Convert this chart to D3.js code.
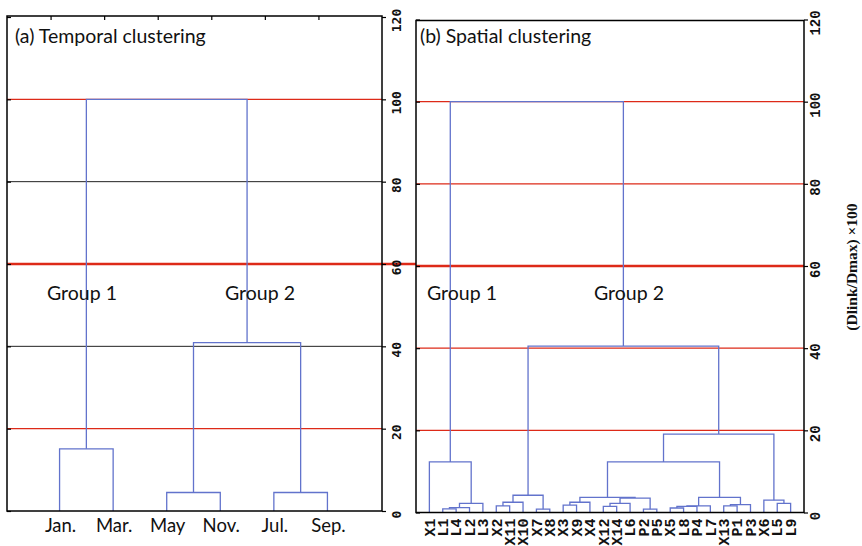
<!DOCTYPE html>
<html lang="en">
<head>
<meta charset="UTF-8">
<title>Temporal and spatial clustering</title>
<script src="https://d3js.org/d3.v7.min.js"></script>
<style>
  body { margin: 0; background: #fff; }
  svg { display: block; }
  .title, .group { font-family: Lato, "Open Sans", sans-serif; font-size: 19.5px; fill: #111; }
  .month { font-family: Lato, "Open Sans", sans-serif; font-size: 18.5px; fill: #111; }
  .axisA text { font-family: "DejaVu Sans Mono", monospace; font-weight: bold; font-size: 13px; fill: #111; }
  .axisB text { font-family: "Liberation Mono", monospace; font-weight: bold; font-size: 14px; fill: #111; }
  .site { font-family: "Liberation Mono", monospace; font-weight: bold; font-size: 15px; fill: #111; }
  .ytitle { font-family: "Liberation Serif", serif; font-weight: bold; font-size: 15.5px; fill: #111; }
  .link { fill: none; stroke: #6273cc; stroke-width: 1.3px; }
  .cut { stroke: #dd2a18; stroke-width: 1.3px; }
  .cut.main { stroke-width: 2.6px; }
  .grid { stroke: #222; stroke-width: 1px; }
  .frame { fill: none; stroke: #000; stroke-width: 1.5px; }
  .axis path { display: none; }
  .axis line { stroke: #000; stroke-width: 1.2px; }
</style>
</head>
<body>
<svg width="862" height="546"></svg>
<script>
// (a) temporal clustering: leaf order and merges [childA, childB, height]
// child index < n is a leaf, otherwise merge (index - n)
const monthLabels = ["Jan.", "Mar.", "May", "Nov.", "Jul.", "Sep."];
const monthMerges = [
    [0, 1, 15.1],
    [2, 3, 4.5],
    [4, 5, 4.5],
    [7, 8, 40.9],
    [6, 9, 100]
];
const monthCutLevels = [100, 60, 20];
const monthGridLevels = [80, 40];

// (b) spatial clustering
const siteLabels = ["X1", "L1", "L4", "L2", "L3", "X2", "X11", "X10", "X7", "X8",
    "X3", "X9", "X4", "X12", "X14", "L6", "P2", "P5", "X5", "L8",
    "P4", "L7", "X13", "P1", "P3", "X6", "L5", "L9"];
const siteMerges = [
    [1, 2, 0.9],    // 28
    [28, 3, 1.2],   // 29
    [29, 4, 2.2],   // 30
    [0, 30, 12.3],  // 31 group 1
    [5, 6, 1.6],    // 32
    [32, 7, 2.5],   // 33
    [8, 9, 0.8],    // 34
    [33, 34, 4.2],  // 35
    [10, 11, 1.8],  // 36
    [36, 12, 2.5],  // 37
    [13, 14, 1.5],  // 38
    [38, 15, 2.2],  // 39
    [16, 17, 0.8],  // 40
    [39, 40, 3.5],  // 41
    [37, 41, 3.7],  // 42
    [18, 19, 1.1],  // 43
    [43, 20, 1.5],  // 44
    [44, 21, 1.6],  // 45
    [22, 23, 1.6],  // 46
    [46, 24, 1.9],  // 47
    [45, 47, 3.7],  // 48
    [42, 48, 12.3], // 49
    [26, 27, 2.2],  // 50
    [25, 50, 3.0],  // 51
    [49, 51, 19.1], // 52
    [35, 52, 40.5], // 53
    [31, 53, 100]   // 54
];
const siteCutLevels = [100, 80, 60, 40, 20];

const yTicks = [0, 20, 40, 60, 80, 100, 120];
const groupNames = ["Group 1", "Group 2"];

const svg = d3.select("svg");

function drawTree(g, labels, merges, x, y) {
    let nodes = labels.map(l => ({ x: x(l), h: 0 }));
    merges.forEach(([a, b, h]) => {
        let na = nodes[a], nb = nodes[b];
        g.append("path")
            .attr("class", "link")
            .attr("d", `M${na.x},${y(na.h)}V${y(h)}H${nb.x}V${y(nb.h)}`);
        nodes.push({ x: (na.x + nb.x) / 2, h: h });
    });
}

function drawAxes(g, y, left, right, cls, labelOffset) {
    // inward ticks on the left border
    g.append("g")
        .attr("class", "axis")
        .attr("transform", `translate(${left},0)`)
        .call(d3.axisRight(y).tickValues(yTicks).tickSize(4).tickFormat(""));

    let ax = g.append("g")
        .attr("class", "axis " + cls)
        .attr("transform", `translate(${right},0)`)
        .call(d3.axisRight(y).tickValues(yTicks).tickSize(4));
    ax.selectAll("text")
        .attr("x", null).attr("dy", null)
        .attr("text-anchor", "middle")
        .attr("transform", `translate(${labelOffset},3) rotate(-90)`)
        .attr("dy", "0.35em");
}

// ---- panel (a)
{
    let left = 7, right = 382, top = 16, bottom = 511;
    let x = d3.scalePoint().domain(monthLabels).range([left - 1, right - 1]).padding(1);
    let y = d3.scaleLinear().domain([0, 120]).range([bottom, top + 1]);
    let g = svg.append("g");

    monthGridLevels.forEach(v => {
        g.append("line").attr("class", "grid")
            .attr("x1", left).attr("x2", right).attr("y1", y(v)).attr("y2", y(v));
    });
    monthCutLevels.forEach(v => {
        g.append("line").attr("class", v === 60 ? "cut main" : "cut")
            .attr("x1", left).attr("x2", v === 60 ? 416 : right)
            .attr("y1", y(v)).attr("y2", y(v));
    });

    drawTree(g, monthLabels, monthMerges, x, y);

    g.append("rect").attr("class", "frame")
        .attr("x", left).attr("y", top).attr("width", right - left).attr("height", bottom - top);

    // small ticks along the top border
    g.append("g")
        .attr("class", "axis")
        .attr("transform", `translate(-9,${top})`)
        .call(d3.axisBottom(x).tickSize(4).tickFormat(""));

    drawAxes(g, y, left, right, "axisA", 14);

    g.selectAll(".month")
        .data(monthLabels)
        .enter().append("text")
        .attr("class", "month")
        .attr("x", d => x(d) + 1)
        .attr("y", 532)
        .attr("text-anchor", "middle")
        .text(d => d);

    g.append("text").attr("class", "title").attr("x", 15).attr("y", 43)
        .text("(a) Temporal clustering");
    g.append("text").attr("class", "group").attr("x", 47).attr("y", 300).text(groupNames[0]);
    g.append("text").attr("class", "group").attr("x", 225).attr("y", 300).text(groupNames[1]);
}

// ---- panel (b)
{
    let left = 416, right = 804, top = 20.5, bottom = 512.5;
    let x = d3.scalePoint().domain(siteLabels).range([left, right]).padding(1);
    let y = d3.scaleLinear().domain([0, 120]).range([bottom, top - 1]);
    let g = svg.append("g");

    siteCutLevels.forEach(v => {
        g.append("line").attr("class", v === 60 ? "cut main" : "cut")
            .attr("x1", left).attr("x2", right).attr("y1", y(v)).attr("y2", y(v));
    });

    drawTree(g, siteLabels, siteMerges, x, y);

    g.append("rect").attr("class", "frame")
        .attr("x", left).attr("y", top).attr("width", right - left).attr("height", bottom - top);

    drawAxes(g, y, left, right, "axisB", 11);

    g.selectAll(".site")
        .data(siteLabels)
        .enter().append("text")
        .attr("class", "site")
        .attr("text-anchor", "end")
        .attr("dy", "0.35em")
        .attr("transform", d => `translate(${x(d)},518.5) rotate(-90)`)
        .text(d => d);

    g.append("text").attr("class", "title").attr("x", 420).attr("y", 43)
        .text("(b) Spatial clustering");
    g.append("text").attr("class", "group").attr("x", 427).attr("y", 300).text(groupNames[0]);
    g.append("text").attr("class", "group").attr("x", 594).attr("y", 300).text(groupNames[1]);

    svg.append("text")
        .attr("class", "ytitle")
        .attr("text-anchor", "middle")
        .attr("transform", "translate(852,267) rotate(-90)")
        .attr("dy", "0.35em")
        .text("(Dlink/Dmax) ×100");
}
</script>
</body>
</html>
